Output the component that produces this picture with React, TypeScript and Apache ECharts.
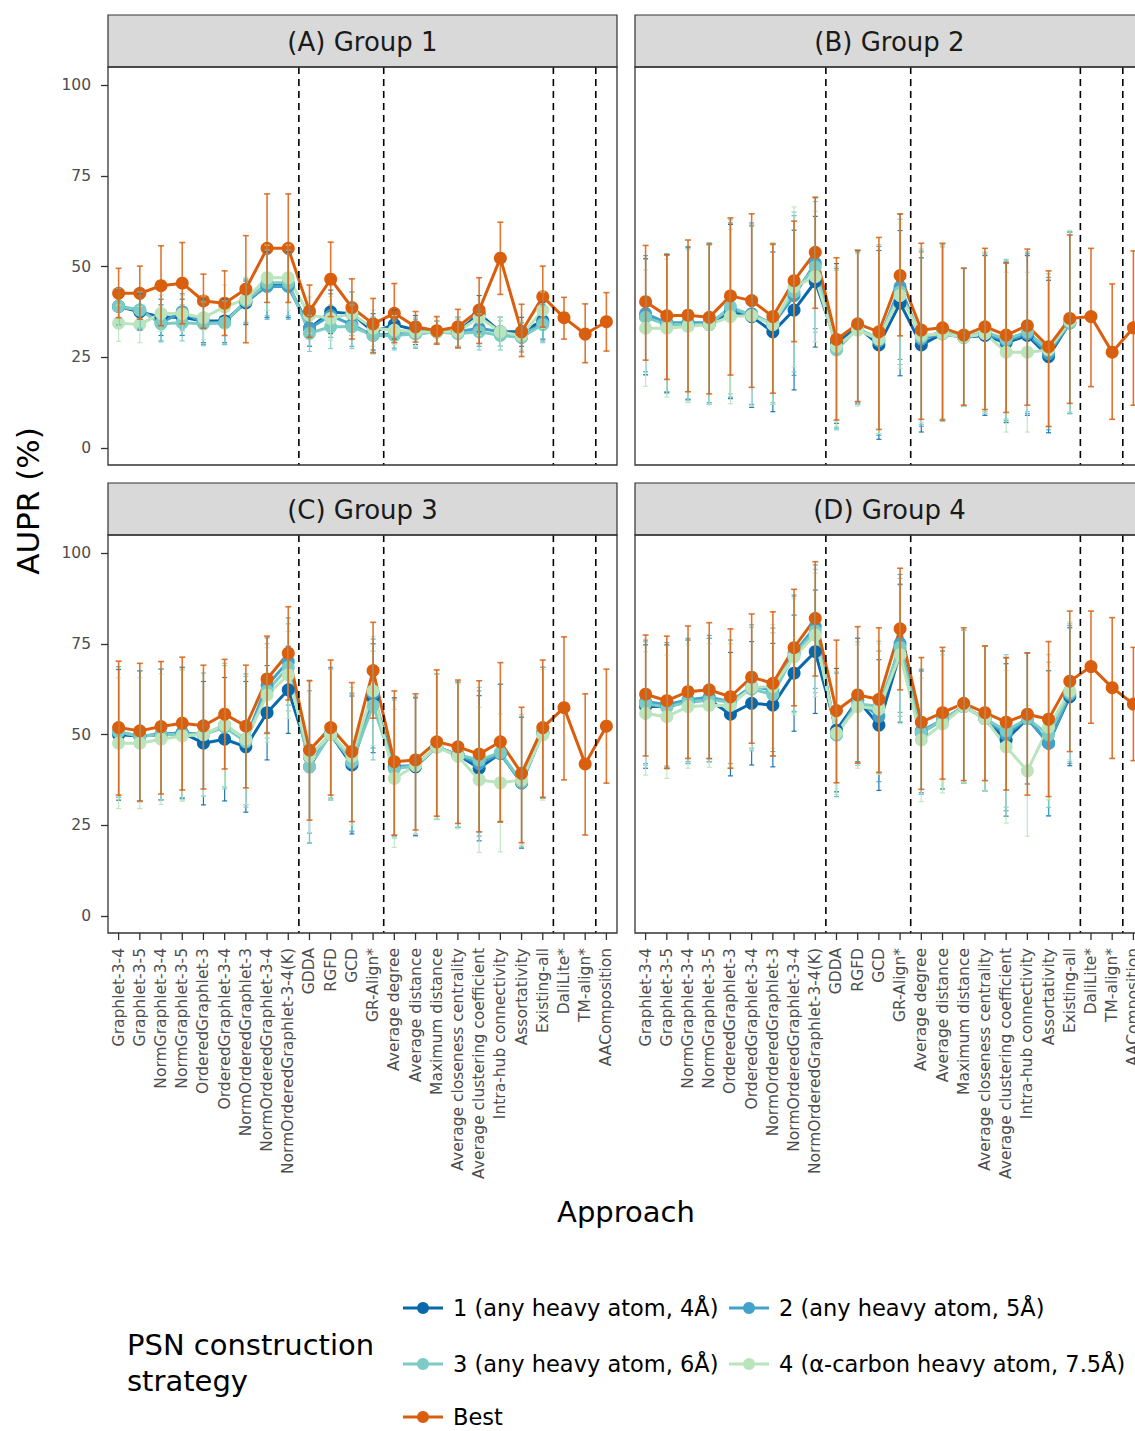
import React, { useEffect, useRef } from "react";
import * as echarts from "echarts";

const categories = [
  "Graphlet-3-4", "Graphlet-3-5", "NormGraphlet-3-4", "NormGraphlet-3-5",
  "OrderedGraphlet-3", "OrderedGraphlet-3-4", "NormOrderedGraphlet-3",
  "NormOrderedGraphlet-3-4", "NormOrderedGraphlet-3-4(K)", "GDDA", "RGFD", "GCD",
  "GR-Align*", "Average degree", "Average distance", "Maximum distance",
  "Average closeness centrality", "Average clustering coefficient",
  "Intra-hub connectivity", "Assortativity", "Existing-all", "DaliLite*",
  "TM-align*", "AAComposition",
];
const panelTitles = ["(A) Group 1", "(B) Group 2", "(C) Group 3", "(D) Group 4"];
const seriesNames = [
  "1 (any heavy atom, 4Å)", "2 (any heavy atom, 5Å)", "3 (any heavy atom, 6Å)",
  "4 (α-carbon heavy atom, 7.5Å)", "Best",
];
const seriesColors = ["#0868ac", "#43a2ca", "#7bccc4", "#bae4bc", "#d95f0e"];
const yTickValues = [0, 25, 50, 75, 100];
// dashed separators are drawn after these category indices
const groupBoundaries = [8, 12, 20, 22];

// ---- Panel A (Group 1)
const aBest = [42.6, 42.6, 44.7, 45.4, 40.5, 39.9, 43.8, 55.0, 55.0, 37.7, 46.5, 38.7, 34.2, 37.1, 33.4, 32.3, 33.4, 38.0, 52.3, 32.0, 41.7, 35.9, 31.4, 34.8];
const aBestLo = [35.9, 35.5, 33.7, 34.2, 33.0, 31.0, 29.0, 40.1, 40.1, 30.5, 36.2, 30.0, 26.3, 29.0, 29.2, 28.6, 27.6, 28.8, 42.3, 25.2, 33.3, 30.0, 23.5, 26.7];
const aBestHi = [49.5, 50.1, 55.7, 56.6, 47.9, 48.8, 58.5, 70.0, 70.0, 44.9, 56.7, 46.6, 41.2, 45.3, 37.6, 36.2, 38.2, 46.9, 62.2, 39.6, 50.1, 41.5, 39.7, 42.8];
const aS1 = [39.0, 37.5, 36.0, 36.0, 35.0, 35.0, 40.0, 45.0, 45.0, 33.0, 37.5, 37.0, 32.0, 34.0, 32.5, 32.0, 32.0, 37.0, 32.0, 32.0, 35.0];
const aS2 = [39.0, 38.0, 34.5, 37.5, 34.5, 34.5, 40.5, 44.5, 44.5, 33.0, 36.5, 34.0, 31.0, 31.5, 31.5, 32.0, 32.0, 33.0, 32.0, 30.5, 34.5];
const aS3 = [39.0, 38.0, 34.2, 34.5, 34.2, 34.5, 40.5, 45.5, 45.5, 31.6, 33.4, 33.4, 31.0, 31.0, 31.5, 32.0, 31.5, 32.0, 31.0, 30.5, 34.0];
const aS4 = [34.4, 34.0, 37.1, 37.0, 35.9, 38.9, 41.0, 46.9, 46.9, 36.6, 35.7, 37.0, 33.0, 32.5, 32.0, 32.0, 32.0, 36.0, 32.0, 31.0, 38.0];
const aErr = [5, 5, 5, 5, 6, 6, 6, 9, 9, 5, 6, 6, 5, 4, 4, 3, 4, 5, 4, 4, 5];

// ---- Panel B (Group 2)
const bBest = [40.3, 36.4, 36.6, 36.0, 41.9, 40.6, 36.2, 46.1, 53.9, 29.9, 34.2, 32.0, 47.5, 32.5, 33.1, 31.1, 33.4, 31.1, 33.7, 27.9, 35.7, 36.2, 26.4, 33.1];
const bBestLo = [24.2, 18.9, 15.5, 14.9, 20.1, 16.7, 15.1, 29.3, 38.5, 7.7, 12.8, 5.1, 30.9, 7.9, 7.7, 11.8, 10.6, 9.8, 11.8, 5.9, 12.3, 16.9, 7.9, 11.8];
const bBestHi = [55.8, 53.2, 57.3, 56.2, 63.4, 64.5, 56.2, 62.5, 69.1, 52.4, 54.5, 58.0, 64.5, 56.4, 56.4, 49.5, 55.0, 51.0, 54.8, 48.8, 58.7, 55.0, 45.2, 54.3];
const bS1 = [36.2, 34.3, 34.3, 34.0, 37.6, 36.2, 32.0, 38.0, 45.8, 28.8, 33.4, 28.4, 39.9, 28.4, 31.5, 30.5, 31.0, 29.0, 31.0, 25.2, 34.5];
const bS2 = [37.0, 34.5, 34.5, 34.5, 38.0, 37.0, 34.0, 42.0, 50.9, 27.5, 33.0, 29.5, 44.4, 30.0, 31.5, 30.5, 31.5, 29.5, 31.5, 26.0, 34.5];
const bS3 = [36.0, 34.0, 34.0, 34.0, 38.9, 36.5, 34.5, 43.0, 49.9, 27.0, 33.0, 30.0, 43.0, 30.5, 32.0, 30.5, 32.0, 30.0, 32.0, 27.0, 34.5];
const bS4 = [33.0, 33.0, 33.5, 34.0, 36.2, 36.5, 34.0, 44.4, 47.2, 28.0, 32.5, 30.0, 42.0, 31.0, 31.5, 30.5, 31.5, 26.4, 26.4, 27.0, 35.0];
const bErr = [16, 19, 21, 22, 24, 25, 22, 22, 18, 22, 21, 26, 20, 24, 24, 19, 22, 22, 22, 21, 25];

// ---- Panel C (Group 3)
const cBest = [51.9, 51.0, 52.2, 53.1, 52.4, 55.6, 52.3, 65.3, 72.4, 45.7, 51.9, 45.3, 67.6, 42.5, 43.0, 48.0, 46.6, 44.6, 48.0, 39.3, 51.9, 57.4, 41.9, 52.3];
const cBestLo = [33.3, 31.7, 33.6, 34.7, 35.0, 40.5, 35.3, 50.3, 59.5, 26.4, 33.3, 26.0, 54.5, 22.3, 23.7, 27.5, 25.5, 23.2, 26.0, 20.2, 32.7, 37.5, 22.3, 36.6];
const cBestHi = [70.2, 69.6, 70.1, 71.3, 69.1, 70.7, 69.1, 77.1, 85.2, 64.8, 70.5, 64.3, 80.9, 62.0, 61.2, 67.8, 65.0, 64.8, 69.8, 57.5, 70.5, 76.9, 61.2, 68.0];
const cS1 = [49.9, 49.6, 50.0, 50.5, 47.6, 48.7, 46.6, 56.0, 62.3, 43.9, 50.0, 41.6, 60.0, 41.1, 41.1, 46.6, 44.4, 40.7, 44.8, 36.7, 50.5];
const cS2 = [50.7, 49.5, 50.0, 50.5, 50.0, 52.6, 48.7, 63.6, 70.1, 41.1, 50.5, 42.2, 61.3, 41.1, 41.5, 46.6, 44.4, 42.0, 44.8, 36.7, 50.5];
const cS3 = [50.7, 49.5, 50.0, 50.0, 50.0, 52.0, 48.0, 62.0, 68.5, 41.1, 50.0, 42.5, 58.0, 40.5, 41.5, 46.6, 44.4, 43.0, 45.0, 37.0, 50.5];
const cS4 = [47.6, 47.6, 48.7, 49.6, 50.0, 52.6, 48.7, 60.9, 66.4, 44.0, 50.0, 44.0, 62.0, 37.9, 41.5, 46.6, 44.0, 37.5, 36.7, 37.5, 49.9];
const cErr = [18, 18, 18, 18, 17, 17, 18, 13, 12, 21, 18, 19, 15, 19, 19, 20, 20, 20, 19, 18, 18];

// ---- Panel D (Group 4)
const dBest = [61.1, 59.3, 61.8, 62.3, 60.4, 65.8, 64.1, 73.9, 82.0, 56.6, 60.9, 59.7, 79.1, 53.4, 56.0, 58.6, 56.0, 53.4, 55.6, 54.2, 64.7, 68.7, 62.9, 58.4];
const dBestLo = [44.1, 40.7, 43.4, 43.4, 40.7, 47.6, 44.1, 57.9, 66.1, 36.7, 42.1, 39.5, 62.3, 34.9, 37.7, 37.3, 37.3, 34.7, 33.3, 32.9, 45.3, 53.1, 43.4, 42.8];
const dBestHi = [77.4, 77.1, 79.9, 80.8, 79.1, 83.2, 83.8, 90.0, 97.6, 76.0, 79.7, 79.4, 95.8, 71.2, 74.0, 79.4, 74.4, 71.2, 72.5, 75.6, 84.0, 84.0, 82.2, 74.0];
const dS1 = [57.7, 57.7, 59.0, 59.5, 55.6, 58.6, 58.1, 66.9, 72.8, 51.2, 59.5, 52.6, 72.4, 50.5, 54.0, 57.7, 54.4, 48.5, 54.4, 47.6, 60.4];
const dS2 = [59.0, 58.3, 59.5, 60.3, 59.0, 63.2, 62.3, 72.4, 79.7, 49.9, 59.5, 55.0, 75.1, 51.0, 54.0, 57.7, 54.4, 50.0, 54.4, 47.6, 61.0];
const dS3 = [58.5, 57.5, 59.0, 59.5, 59.0, 62.5, 61.0, 72.0, 78.5, 49.9, 58.5, 57.7, 74.0, 50.5, 54.0, 57.7, 54.4, 51.0, 54.4, 49.9, 61.5];
const dS4 = [55.8, 54.9, 57.7, 58.0, 58.0, 63.0, 63.2, 71.4, 77.4, 50.4, 57.7, 57.0, 72.0, 48.5, 52.9, 57.7, 54.4, 46.6, 40.0, 52.0, 62.0];
const dErr = [17, 17, 17, 17, 17, 17, 17, 16, 17, 17, 17, 18, 19, 17, 19, 21, 20, 21, 18, 20, 19];

const panels = [
  { best: aBest, lo: aBestLo, hi: aBestHi, s: [aS1, aS2, aS3, aS4], err: aErr },
  { best: bBest, lo: bBestLo, hi: bBestHi, s: [bS1, bS2, bS3, bS4], err: bErr },
  { best: cBest, lo: cBestLo, hi: cBestHi, s: [cS1, cS2, cS3, cS4], err: cErr },
  { best: dBest, lo: dBestLo, hi: dBestHi, s: [dS1, dS2, dS3, dS4], err: dErr },
];

// ---- layout
const FONT = "DejaVu Sans";
const COL_LEFT = [108, 635];
const ROW_TOP = [67, 535];
const PANEL_W = 509;
const PANEL_H = 398;
const PAD_TOP = 18; // panel top to y=100
const PLOT_H = 363; // y=100 to y=0
const PAD_BOTTOM = PANEL_H - PAD_TOP - PLOT_H;
const STRIP_H = 52;
const TICK_LEN = 7;

function buildOption() {
  const grid: any[] = [];
  const xAxis: any[] = [];
  const yAxis: any[] = [];
  const series: any[] = [];
  const graphic: any[] = [];

  panels.forEach((p, i) => {
    const col = i % 2;
    const row = Math.floor(i / 2);
    const left = COL_LEFT[col];
    const top = ROW_TOP[row];
    grid.push({ left, top: top + PAD_TOP, width: PANEL_W, height: PLOT_H, containLabel: false });
    xAxis.push({
      type: "category",
      gridIndex: i,
      data: categories,
      boundaryGap: true,
      offset: PAD_BOTTOM,
      axisLine: { show: false },
      axisTick: { show: false },
      axisLabel: {
        show: row === 1, rotate: 90, interval: 0, fontSize: 15.5, color: "#4d4d4d",
        fontFamily: FONT, margin: 15,
      },
      splitLine: { show: false },
    });
    yAxis.push({
      type: "value",
      gridIndex: i,
      min: 0,
      max: 100,
      interval: 25,
      axisLine: { show: false },
      axisTick: { show: col === 0, length: TICK_LEN, lineStyle: { color: "#333", width: 1.3 } },
      axisLabel: { show: col === 0, fontSize: 15.5, color: "#4d4d4d", fontFamily: FONT, margin: 17 },
      splitLine: { show: false },
    });

    const allSeries = [...p.s, p.best];
    // lines
    allSeries.forEach((d, k) => {
      series.push({
        type: "line", name: seriesNames[k], xAxisIndex: i, yAxisIndex: i, data: d,
        showSymbol: false, silent: true, z: 1,
        lineStyle: { color: seriesColors[k], width: 3 },
      });
    });
    // points
    allSeries.forEach((d, k) => {
      series.push({
        type: "scatter", name: seriesNames[k], xAxisIndex: i, yAxisIndex: i, data: d,
        symbolSize: 13, silent: true, z: 2,
        itemStyle: { color: seriesColors[k], opacity: 1 },
      });
    });
    // error bars
    allSeries.forEach((d, k) => {
      const isBest = k === 4;
      const data = d.map((v, j) =>
        isBest ? [j, p.lo[j], p.hi[j]] : [j, v - p.err[j], v + p.err[j]]
      );
      const color = seriesColors[k];
      const lw = isBest ? 1.6 : 1.2;
      const cap = isBest ? 3 : 2.5;
      series.push({
        type: "custom", xAxisIndex: i, yAxisIndex: i, data, silent: true, z: 3, clip: false,
        encode: { x: 0, y: [1, 2] },
        renderItem: (params: any, api: any) => {
          const x = api.value(0);
          const pLo = api.coord([x, api.value(1)]);
          const pHi = api.coord([x, api.value(2)]);
          const style = { stroke: color, lineWidth: lw, opacity: isBest ? 0.85 : 0.9 };
          return {
            type: "group",
            children: [
              { type: "line", shape: { x1: pLo[0], y1: pLo[1], x2: pHi[0], y2: pHi[1] }, style },
              { type: "line", shape: { x1: pLo[0] - cap, y1: pLo[1], x2: pLo[0] + cap, y2: pLo[1] }, style },
              { type: "line", shape: { x1: pHi[0] - cap, y1: pHi[1], x2: pHi[0] + cap, y2: pHi[1] }, style },
            ],
          };
        },
      });
    });
    // dashed separators
    series.push({
      type: "custom", xAxisIndex: i, yAxisIndex: i, silent: true, z: 4, clip: false,
      data: groupBoundaries.map((b) => [b, 0]),
      encode: { x: 0, y: 1 },
      renderItem: (params: any, api: any) => {
        const pt = api.coord([api.value(0), 0]);
        const w = api.size([1, 0])[0];
        const xx = pt[0] + w / 2;
        const cs = params.coordSys;
        return {
          type: "line",
          shape: { x1: xx, y1: cs.y - PAD_TOP, x2: xx, y2: cs.y + cs.height + PAD_BOTTOM },
          style: { stroke: "#000", lineWidth: 1.6, lineDash: [7, 5] },
        };
      },
    });
    // x-axis tick marks at the panel's bottom edge (bottom row only)
    if (row === 1) {
      series.push({
        type: "custom", xAxisIndex: i, yAxisIndex: i, silent: true, z: 5, clip: false,
        data: categories.map((_, j) => [j, 0]),
        encode: { x: 0, y: 1 },
        renderItem: (params: any, api: any) => {
          const pt = api.coord([api.value(0), 0]);
          const cs = params.coordSys;
          const y0 = cs.y + cs.height + PAD_BOTTOM;
          return {
            type: "line",
            shape: { x1: pt[0], y1: y0, x2: pt[0], y2: y0 + TICK_LEN },
            style: { stroke: "#333", lineWidth: 1.3 },
          };
        },
      });
    }

    // strip
    graphic.push({
      type: "rect", z: 10,
      shape: { x: left, y: top - STRIP_H, width: PANEL_W, height: STRIP_H },
      style: { fill: "#d9d9d9", stroke: "#333", lineWidth: 1.2 },
    });
    graphic.push({
      type: "text", z: 11,
      style: {
        text: panelTitles[i], x: left + PANEL_W / 2, y: top - STRIP_H / 2 + 1,
        textAlign: "center", textVerticalAlign: "middle",
        fontSize: 26, fontFamily: FONT, fill: "#1a1a1a",
      },
    });
    // panel border
    graphic.push({
      type: "rect", z: 10, silent: true,
      shape: { x: left, y: top, width: PANEL_W, height: PANEL_H },
      style: { fill: "none", stroke: "#333", lineWidth: 1.3 },
    });
  });

  // axis titles
  graphic.push({
    type: "text", z: 11,
    x: 28, y: 501, rotation: Math.PI / 2,
    style: {
      text: "AUPR (%)", x: 0, y: 0, textAlign: "center", textVerticalAlign: "middle",
      fontSize: 31, fontFamily: FONT, fill: "#000",
    },
  });
  graphic.push({
    type: "text", z: 11,
    style: {
      text: "Approach", x: 626, y: 1212, textAlign: "center", textVerticalAlign: "middle",
      fontSize: 29, fontFamily: FONT, fill: "#000",
    },
  });

  // legend
  graphic.push({
    type: "text", z: 11,
    style: {
      text: "PSN construction", x: 127, y: 1345, textAlign: "left", textVerticalAlign: "middle",
      fontSize: 29, fontFamily: FONT, fill: "#000",
    },
  });
  graphic.push({
    type: "text", z: 11,
    style: {
      text: "strategy", x: 127, y: 1381, textAlign: "left", textVerticalAlign: "middle",
      fontSize: 29, fontFamily: FONT, fill: "#000",
    },
  });
  const legendPos = [
    [403, 1308], [729, 1308], [403, 1364], [729, 1364], [403, 1417],
  ];
  seriesNames.forEach((name, k) => {
    const [lx, ly] = legendPos[k];
    graphic.push({
      type: "line", z: 11,
      shape: { x1: lx, y1: ly, x2: lx + 40, y2: ly },
      style: { stroke: seriesColors[k], lineWidth: 3 },
    });
    graphic.push({
      type: "circle", z: 12,
      shape: { cx: lx + 20, cy: ly, r: 6 },
      style: { fill: seriesColors[k] },
    });
    graphic.push({
      type: "text", z: 11,
      style: {
        text: name, x: lx + 50, y: ly, textAlign: "left", textVerticalAlign: "middle",
        fontSize: 22.5, fontFamily: FONT, fill: "#000",
      },
    });
  });

  return {
    animation: false,
    backgroundColor: "#fff",
    textStyle: { fontFamily: FONT },
    grid, xAxis, yAxis, series, graphic,
  };
}

export default function App() {
  const ref = useRef<HTMLDivElement>(null);
  useEffect(() => {
    if (!ref.current) return;
    const chart = echarts.init(ref.current, undefined, { renderer: "svg" });
    chart.setOption(buildOption() as any);
    return () => chart.dispose();
  }, []);
  return (
    <div style={{ position: "fixed", left: 0, top: 0, width: 1135, height: 1431, overflow: "hidden", background: "#fff" }}>
      <div ref={ref} style={{ width: 1150, height: 1431 }} />
    </div>
  );
}
